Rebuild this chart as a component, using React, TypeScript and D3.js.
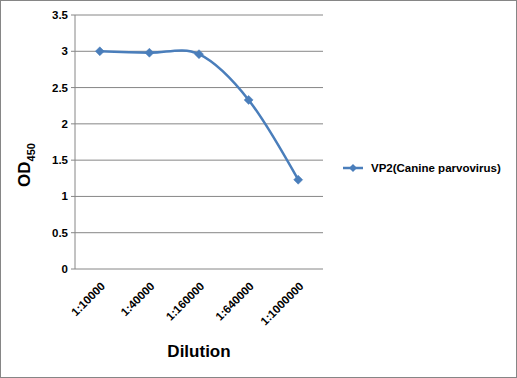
import React from "react";
import * as d3 from "d3";

const categories = ["1:10000", "1:40000", "1:160000", "1:640000", "1:1000000"];
const values = [3.0, 2.98, 2.96, 2.33, 1.23];
const yTicks = [0, 0.5, 1, 1.5, 2, 2.5, 3, 3.5];
const seriesName = "VP2(Canine parvovirus)";

const W = 517, H = 378;
const left = 75, right = 323, top = 15, bottom = 269;

export default function App() {
  const x = d3.scaleBand().domain(categories).range([left, right]);
  const y = d3.scaleLinear().domain([0, 3.5]).range([bottom, top]);
  const cx = (c: string) => (x(c) as number) + x.bandwidth() / 2;
  const pts: [number, number][] = categories.map((c, i) => [cx(c), y(values[i])]);
  const line = d3.line().curve(d3.curveCardinal.tension(0))(pts) as string;
  const diamond = (px: number, py: number, r = 4.5) =>
    `M${px},${py - r}L${px + r},${py}L${px},${py + r}L${px - r},${py}Z`;
  const color = "#4a7ebb";
  const grid = "#868686";
  const font = "'Liberation Sans', Arial, sans-serif";
  return (
    <svg width={W} height={H} style={{ position: "absolute", left: 0, top: 0 }} fontFamily={font}>
      <rect x={0.5} y={0.5} width={W - 1} height={H - 1} fill="#fff" stroke="#868686" />
      {yTicks.map((t) => (
        <g key={t}>
          {t > 0 && <line x1={left} x2={right} y1={y(t)} y2={y(t)} stroke={grid} strokeWidth={1} />}
          <line x1={left - 4} x2={left} y1={y(t)} y2={y(t)} stroke={grid} />
          <text x={left - 7} y={y(t)} dy="0.35em" textAnchor="end" fontSize={11.5} fontWeight="bold" fill="#000">
            {t}
          </text>
        </g>
      ))}
      <line x1={left} x2={left} y1={top} y2={bottom} stroke={grid} />
      <line x1={left} x2={right} y1={bottom} y2={bottom} stroke={grid} />
      {categories.map((c) => (
        <text
          key={c}
          transform={`translate(${cx(c) + 6},${bottom + 18}) rotate(-45)`}
          textAnchor="end"
          fontSize={11.5}
          fontWeight="bold"
          fill="#000"
        >
          {c}
        </text>
      ))}
      <path d={line} fill="none" stroke={color} strokeWidth={2.5} />
      {pts.map(([px, py], i) => (
        <path key={i} d={diamond(px, py)} fill={color} stroke={color} strokeWidth={0.5} />
      ))}
      <text x={199} y={357} textAnchor="middle" fontSize={17} fontWeight="bold" fill="#000">
        Dilution
      </text>
      <text transform={`translate(30,165) rotate(-90)`} textAnchor="middle" fontSize={17} fontWeight="bold" fill="#000">
        OD<tspan fontSize={11} dy={5}>450</tspan>
      </text>
      <line x1={343} x2={363} y1={168} y2={168} stroke={color} strokeWidth={2.5} />
      <path d={diamond(353, 168, 4)} fill={color} />
      <text x={371} y={168} dy="0.35em" fontSize={11.5} fontWeight="bold" fill="#000">
        {seriesName}
      </text>
    </svg>
  );
}
